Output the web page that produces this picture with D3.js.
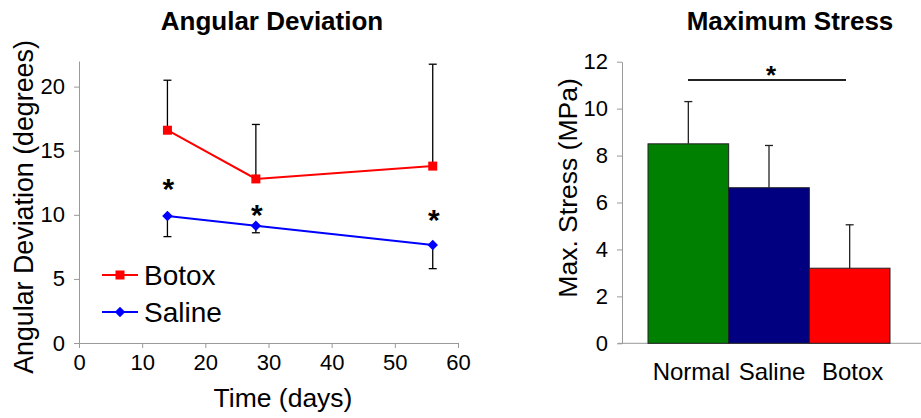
<html>
  <head>
    <script src="https://d3js.org/d3.v7.min.js"></script>
    <style>
      body { margin: 0; background: #fff; }
      text { font-family: Arial, "Liberation Sans", sans-serif; }
    </style>
  </head>
  <body>
<div id="my_dataviz"></div>
<script>
// data
var days = [14, 28, 56];
var botox = [16.6, 12.8, 13.8];
var botoxErr = [3.9, 4.25, 7.95];     // drawn upward only
var saline = [9.9, 9.15, 7.65];
var salineErr = [1.6, 0.55, 1.85];    // drawn downward only
var starDays = [14, 28, 56];

var groups = ["Normal", "Saline", "Botox"];
var stress = [8.5, 6.63, 3.2];
var stressErr = [1.8, 1.8, 1.85];
var groupColors = ["#008000", "#000080", "#ff0000"];

var xTicks = [0, 10, 20, 30, 40, 50, 60];
var yTicks = [0, 5, 10, 15, 20];
var sTicks = [0, 2, 4, 6, 8, 10, 12];

var svg = d3.select("#my_dataviz")
  .append("svg")
    .attr("width", 921)
    .attr("height", 418);

// ---------- left chart: Angular Deviation ----------
var x = d3.scaleLinear().domain([0, 60]).range([79, 458]);
var y = d3.scaleLinear().domain([0, 22]).range([343, 61]);

var xAxis = svg.append("g")
  .attr("transform", "translate(0,343)")
  .call(d3.axisBottom(x).tickValues(xTicks).tickSize(5).tickPadding(6).tickSizeOuter(0));
var yAxis = svg.append("g")
  .attr("transform", "translate(79,0)")
  .call(d3.axisLeft(y).tickValues(yTicks).tickSize(5).tickPadding(9).tickSizeOuter(0));

[xAxis, yAxis].forEach(function(a) {
  a.select(".domain").attr("stroke", "#999");
  a.selectAll(".tick line").attr("stroke", "#999");
  a.selectAll(".tick text").style("font-size", "22px").attr("fill", "#000");
});

svg.append("text")
  .attr("text-anchor", "middle")
  .attr("x", 272).attr("y", 30)
  .style("font-size", "26px").style("font-weight", "bold")
  .text("Angular Deviation");

svg.append("text")
  .attr("text-anchor", "middle")
  .attr("x", 283).attr("y", 407)
  .style("font-size", "26.5px")
  .text("Time (days)");

svg.append("text")
  .attr("text-anchor", "middle")
  .attr("transform", "translate(33,207) rotate(-90)")
  .style("font-size", "26.8px")
  .text("Angular Deviation (degrees)");

// error bars
function errBars(vals, errs, dir) {
  var g = svg.append("g").attr("stroke", "#000").attr("stroke-width", 1.3);
  days.forEach(function(d, i) {
    var y2 = y(vals[i] + dir * errs[i]);
    g.append("line").attr("x1", x(d)).attr("x2", x(d)).attr("y1", y(vals[i])).attr("y2", y2);
    g.append("line").attr("x1", x(d) - 4).attr("x2", x(d) + 4).attr("y1", y2).attr("y2", y2);
  });
}
errBars(botox, botoxErr, 1);
errBars(saline, salineErr, -1);

var line = d3.line()
  .x(function(d, i) { return x(days[i]); })
  .y(function(d) { return y(d); });

svg.append("path").datum(botox)
  .attr("fill", "none").attr("stroke", "#ff0000").attr("stroke-width", 2)
  .attr("d", line);
svg.append("path").datum(saline)
  .attr("fill", "none").attr("stroke", "#0000ff").attr("stroke-width", 2)
  .attr("d", line);

svg.append("g").selectAll("rect")
  .data(botox).enter().append("rect")
    .attr("x", function(d, i) { return x(days[i]) - 4.5; })
    .attr("y", function(d) { return y(d) - 4.5; })
    .attr("width", 9).attr("height", 9)
    .attr("fill", "#ff0000");

svg.append("g").selectAll("path")
  .data(saline).enter().append("path")
    .attr("transform", function(d, i) { return "translate(" + x(days[i]) + "," + y(d) + ") rotate(45)"; })
    .attr("d", d3.symbol().type(d3.symbolSquare).size(55))
    .attr("fill", "#0000ff");

// asterisks over saline
var starY = [12.45, 10.45, 10.05];
svg.append("g").selectAll("text")
  .data(starDays).enter().append("text")
    .attr("text-anchor", "middle")
    .attr("x", function(d) { return x(d) + 1; })
    .attr("y", function(d, i) { return y(starY[i]) + 16; })
    .style("font-size", "30px").style("font-weight", "bold")
    .text("*");

// legend
var legend = [{name: "Botox", color: "#ff0000", shape: "square", yy: 275},
              {name: "Saline", color: "#0000ff", shape: "diamond", yy: 312}];
legend.forEach(function(l) {
  svg.append("line").attr("x1", 102).attr("x2", 138).attr("y1", l.yy).attr("y2", l.yy)
    .attr("stroke", l.color).attr("stroke-width", 2);
  if (l.shape == "square") {
    svg.append("rect").attr("x", 115.5).attr("y", l.yy - 4.5).attr("width", 9).attr("height", 9).attr("fill", l.color);
  } else {
    svg.append("path").attr("transform", "translate(120," + l.yy + ") rotate(45)")
      .attr("d", d3.symbol().type(d3.symbolSquare).size(55)).attr("fill", l.color);
  }
  svg.append("text").attr("x", 144).attr("y", l.yy + 10)
    .style("font-size", "28px").text(l.name);
});

// ---------- right chart: Maximum Stress ----------
var xb = d3.scaleBand().domain(groups).range([648, 890]).padding(0);
var yb = d3.scaleLinear().domain([0, 12]).range([343.3, 61.7]);

var sAxis = svg.append("g")
  .attr("transform", "translate(622,0)")
  .call(d3.axisLeft(yb).tickValues(sTicks).tickSize(5).tickPadding(9).tickSizeOuter(0));
sAxis.select(".domain").attr("stroke", "#999");
sAxis.selectAll(".tick line").attr("stroke", "#999");
sAxis.selectAll(".tick text").style("font-size", "22px").attr("fill", "#000");

svg.append("line").attr("x1", 618).attr("x2", 921).attr("y1", yb(0)).attr("y2", yb(0))
  .attr("stroke", "#999");

svg.append("g").selectAll("rect")
  .data(stress).enter().append("rect")
    .attr("x", function(d, i) { return xb(groups[i]); })
    .attr("y", function(d) { return yb(d); })
    .attr("width", xb.bandwidth())
    .attr("height", function(d) { return yb(0) - yb(d); })
    .attr("fill", function(d, i) { return groupColors[i]; })
    .attr("stroke", "#222").attr("stroke-width", 1);

var eb = svg.append("g").attr("stroke", "#222").attr("stroke-width", 1.3);
stress.forEach(function(d, i) {
  var cx = xb(groups[i]) + xb.bandwidth() / 2;
  var top = yb(d + stressErr[i]);
  eb.append("line").attr("x1", cx).attr("x2", cx).attr("y1", yb(d)).attr("y2", top);
  eb.append("line").attr("x1", cx - 4).attr("x2", cx + 4).attr("y1", top).attr("y2", top);
});

svg.append("g").selectAll("text")
  .data(groups).enter().append("text")
    .attr("text-anchor", "middle")
    .attr("x", function(d) { return xb(d) + xb.bandwidth() / 2 + 3; })
    .attr("y", 380)
    .style("font-size", "24px")
    .text(function(d) { return d; });

// significance bar Normal vs Botox
svg.append("line").attr("x1", 688).attr("x2", 846).attr("y1", 80).attr("y2", 80)
  .attr("stroke", "#222").attr("stroke-width", 2.2);
svg.append("text").attr("text-anchor", "middle").attr("x", 771).attr("y", 84)
  .style("font-size", "26px").style("font-weight", "bold").text("*");

svg.append("text")
  .attr("text-anchor", "middle")
  .attr("x", 790).attr("y", 30)
  .style("font-size", "26px").style("font-weight", "bold")
  .text("Maximum Stress");

svg.append("text")
  .attr("text-anchor", "middle")
  .attr("transform", "translate(577,188) rotate(-90)")
  .style("font-size", "26.5px")
  .text("Max. Stress (MPa)");
</script>
  </body>
</html>
